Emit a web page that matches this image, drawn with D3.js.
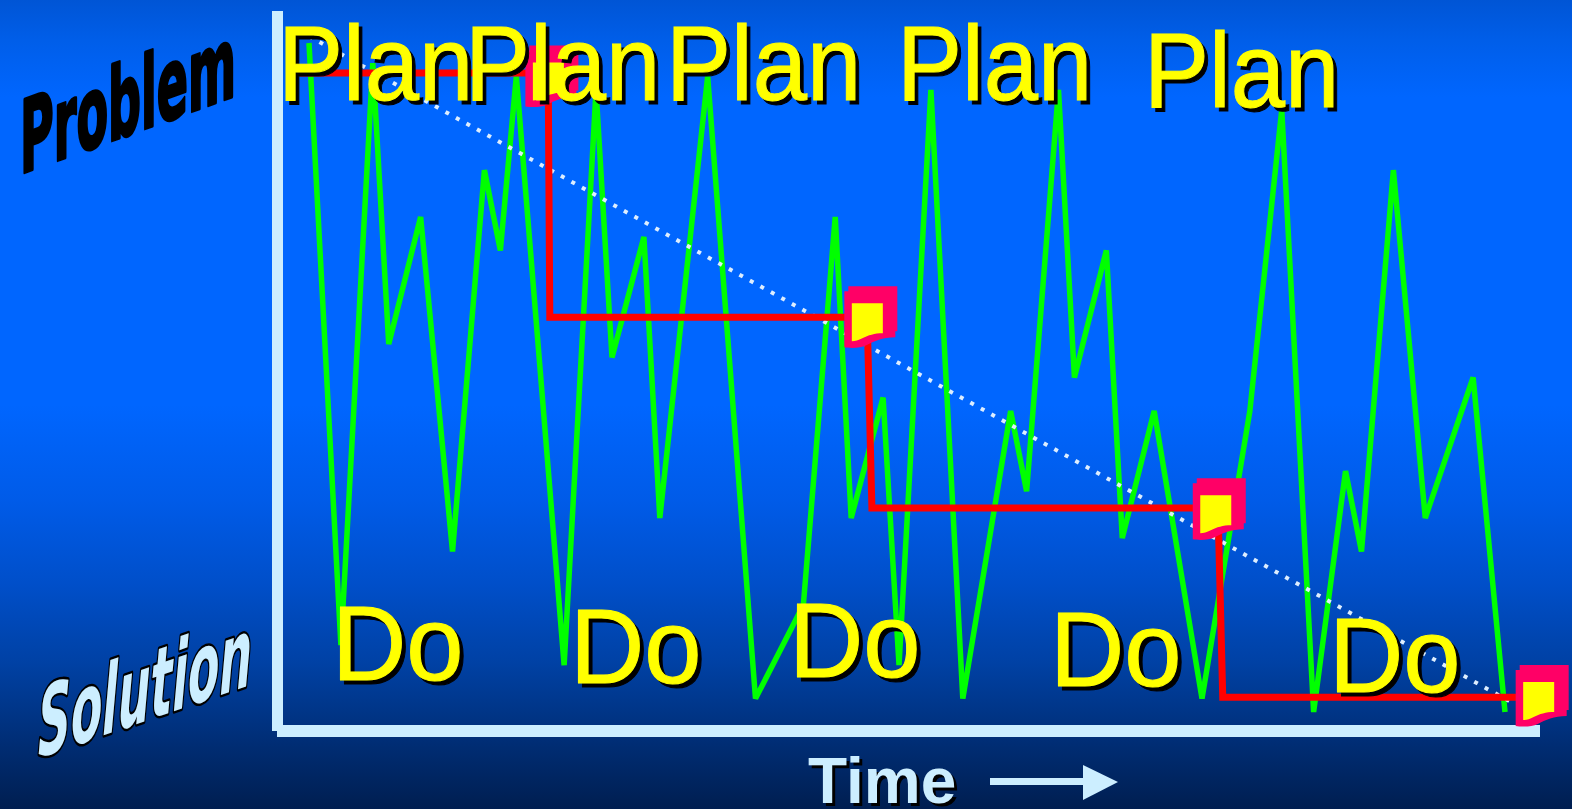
<!DOCTYPE html>
<html>
<head>
<meta charset="utf-8">
<script src="https://cdn.jsdelivr.net/npm/d3@7/dist/d3.min.js"></script>
<style>
  html, body { margin: 0; padding: 0; background: #0066ff; overflow: hidden; }
  svg { display: block; }
</style>
</head>
<body>
<svg id="chart" width="1572" height="809"></svg>
<script>
// Day-to-day problem level over time (0 = solution, 100 = problem)
const greenTime  = [0, 2, 4, 5, 7, 9, 11, 12, 13, 16, 18, 19, 21, 22, 25, 28, 31, 33, 34, 36, 37, 39, 41, 44, 45, 47, 48, 50, 51, 53, 56, 59, 61, 63, 65, 66, 68, 70, 73, 75];
const greenLevel = [100, 10, 97, 55, 74, 24, 81, 69, 95, 7, 93, 53, 71, 29, 95, 2, 16, 74, 29, 47, 7, 93, 2, 45, 33, 93, 50, 69, 26, 45, 2, 45, 90, 0, 36, 24, 81, 29, 50, 0];

// Plan-Do improvement steps
const stepTime  = [-0.6, 15, 15.1, 35, 35.3, 57, 57.3, 76.5];
const stepLevel = [95.5, 95.5, 59, 59, 30.5, 30.5, 2.2, 2.2];

// Plan milestones (document icons)
const markerTime  = [15.2, 35.2, 57.05, 77.3];
const markerLevel = [95, 59, 30.3, 2.4];

// Overall trend
const trendTime  = [0, 75.6];
const trendLevel = [101, 1.2];

// Labels
const planLabels = ["Plan", "Plan", "Plan", "Plan", "Plan"];
const doLabels   = ["Do", "Do", "Do", "Do", "Do"];
const yTopLabel = "Problem";
const yBottomLabel = "Solution";
const xLabel = "Time";

const svg = d3.select("#chart");
const W = 1572, H = 809;

const x = d3.scaleLinear().domain([0, 75]).range([309, 1505]);
const y = d3.scaleLinear().domain([0, 100]).range([712, 43]);

// Background gradient
const defs = svg.append("defs");
const grad = defs.append("linearGradient").attr("id", "bg")
  .attr("x1", 0).attr("y1", 0).attr("x2", 0).attr("y2", 1);
[[0, "#0055d5"], [0.05, "#005ee9"], [0.12, "#0066ff"], [0.5, "#0066ff"],
 [0.62, "#005be8"], [0.72, "#004fca"], [0.82, "#0041a4"], [0.92, "#002d74"], [1, "#001e50"]]
  .forEach(([o, c]) => grad.append("stop").attr("offset", o).attr("stop-color", c));
svg.append("rect").attr("width", W).attr("height", H).attr("fill", "url(#bg)");

// Axes (L-shaped bars)
const axisColor = "#cceeff";
svg.append("rect").attr("x", 272).attr("y", 11).attr("width", 11).attr("height", 720).attr("fill", axisColor);
svg.append("rect").attr("x", 277).attr("y", 725).attr("width", 1263).attr("height", 12).attr("fill", axisColor);

// Green fluctuation line
const greenPts = greenTime.map((t, i) => [x(t), y(greenLevel[i])]);
svg.append("path")
  .attr("d", d3.line()(greenPts))
  .attr("fill", "none").attr("stroke", "#00ff00").attr("stroke-width", 5.5)
  .attr("stroke-linejoin", "bevel");

// Dotted trend line
const trendPts = trendTime.map((t, i) => [x(t), y(trendLevel[i])]);
svg.append("path")
  .attr("d", d3.line()(trendPts))
  .attr("fill", "none").attr("stroke", "#ddeeff").attr("stroke-width", 4)
  .attr("stroke-dasharray", "4,8");

// Red step line
const stepPts = stepTime.map((t, i) => [x(t), y(stepLevel[i])]);
svg.append("path")
  .attr("d", d3.line()(stepPts))
  .attr("fill", "none").attr("stroke", "#ff0000").attr("stroke-width", 7)
  .attr("stroke-linejoin", "miter");

// Document-shaped markers
const pinkPath = "M-26,-26 H-22 V-31 H27 V14 H25 V20 C12,20 4,24 -4,28 C-10,31 -20,31 -26,30 Z";
const yellowPath = "M-18.5,-14 H12.5 V16 C4,16 -2,18 -8,21 C-12,23 -15,24 -18.5,24 Z";
const mk = svg.append("g").selectAll("g").data(markerTime).join("g")
  .attr("transform", (t, i) => `translate(${x(t)},${y(markerLevel[i])})`);
mk.append("path").attr("d", pinkPath).attr("fill", "#ff0066");
mk.append("path").attr("d", yellowPath).attr("fill", "#ffff00");

// Yellow shadowed labels
function shadowText(g, txt, px, py, size, sx) {
  const grp = g.append("g").attr("transform", `translate(${px},${py}) scale(${sx},1)`);
  grp.append("text").attr("x", 4).attr("y", 4).text(txt)
    .attr("font-family", "'Liberation Sans', Arial, sans-serif").attr("font-size", size)
    .attr("fill", "#000").attr("stroke", "#000").attr("stroke-width", 1);
  grp.append("text").attr("x", 0).attr("y", 0).text(txt)
    .attr("font-family", "'Liberation Sans', Arial, sans-serif").attr("font-size", size)
    .attr("fill", "#ffff00").attr("stroke", "#ffff00").attr("stroke-width", 1);
}
const planPos = [[278, 100], [465, 100], [666, 100], [897, 100], [1144, 107]];
const doPos = [[332, 680], [570, 683], [789, 677], [1050, 686], [1329, 692]];
const labels = svg.append("g");
planLabels.forEach((s, i) => shadowText(labels, s, planPos[i][0], planPos[i][1], 105, 0.93));
doLabels.forEach((s, i) => shadowText(labels, s, doPos[i][0], doPos[i][1], 105, 0.98));

// Slanted axis end labels
svg.append("g").attr("transform", "translate(20,174) skewY(-20)")
  .append("text").text(yTopLabel)
  .attr("font-family", "'DejaVu Sans', sans-serif").attr("font-weight", "bold")
  .attr("font-size", 100)
  .attr("textLength", 216).attr("lengthAdjust", "spacingAndGlyphs")
  .attr("fill", "#000").attr("stroke", "#000").attr("stroke-width", 3.5)
  .attr("stroke-linejoin", "round");

svg.append("g").attr("transform", "translate(38,758) skewY(-19)")
  .append("text").text(yBottomLabel)
  .attr("font-family", "'DejaVu Sans', sans-serif").attr("font-weight", "bold")
  .attr("font-style", "italic").attr("font-size", 96)
  .attr("textLength", 214).attr("lengthAdjust", "spacingAndGlyphs")
  .attr("fill", axisColor).attr("stroke", "#000").attr("stroke-width", 5)
  .attr("stroke-linejoin", "round")
  .attr("paint-order", "stroke");

// Time label with arrow
const tg = svg.append("g").attr("transform", "translate(808,803)");
tg.append("text").attr("x", 3).attr("y", 3).text(xLabel)
  .attr("font-family", "'Liberation Sans', Arial, sans-serif").attr("font-weight", "bold")
  .attr("font-size", 64).attr("fill", "#000");
tg.append("text").attr("x", 0).attr("y", 0).text(xLabel)
  .attr("font-family", "'Liberation Sans', Arial, sans-serif").attr("font-weight", "bold")
  .attr("font-size", 64).attr("fill", axisColor);

svg.append("rect").attr("x", 990).attr("y", 778).attr("width", 96).attr("height", 7).attr("fill", axisColor);
svg.append("path").attr("d", "M1083,765 L1118,782 L1083,800 Z").attr("fill", axisColor);
</script>
</body>
</html>
